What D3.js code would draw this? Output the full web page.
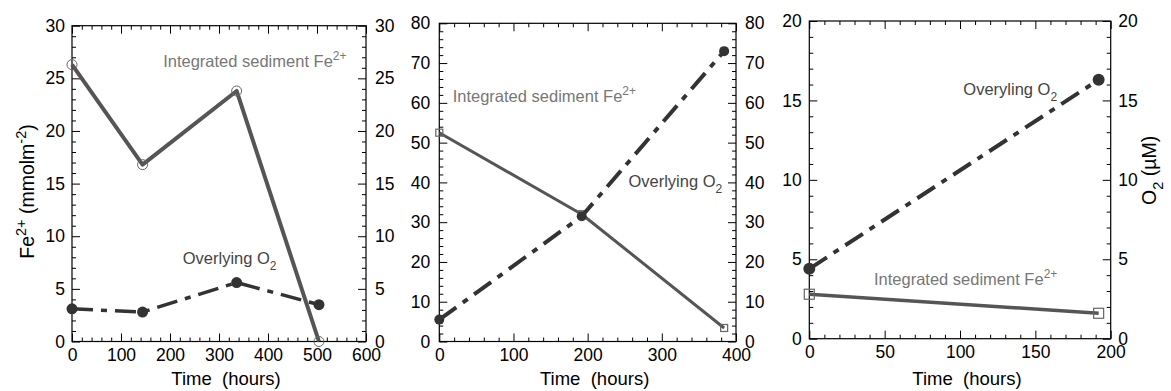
<!DOCTYPE html>
<html>
<head>
<meta charset="utf-8">
<script src="https://cdn.jsdelivr.net/npm/d3@7"></script>
<style>
  html, body { margin: 0; padding: 0; background: #fff; }
  svg { display: block; font-family: "Liberation Sans", Arial, Helvetica, sans-serif; }
</style>
</head>
<body>
<svg id="chart" width="1171" height="391"></svg>
<script>
// Incubation time points (hours) and measurements for the three experiments
const timeP1 = [0, 144, 336, 504];
const feP1   = [26.3, 16.8, 23.8, 0.0];   // integrated sediment Fe2+ (mmol m-2)
const o2P1   = [3.1, 2.8, 5.6, 3.5];      // overlying O2 (µM)

const timeP2 = [0, 192, 384];
const feP2   = [52.5, 32.0, 3.4];
const o2P2   = [5.5, 31.5, 73.0];

const timeP3 = [0, 192];
const feP3   = [2.8, 1.6];
const o2P3   = [4.4, 16.3];

// Tick labels
const xTicksP1 = [0, 100, 200, 300, 400, 500, 600];
const yTicksP1 = [0, 5, 10, 15, 20, 25, 30];
const xTicksP2 = [0, 100, 200, 300, 400];
const yTicksP2 = [0, 10, 20, 30, 40, 50, 60, 70, 80];
const xTicksP3 = [0, 50, 100, 150, 200];
const yTicksP3 = [0, 5, 10, 15, 20];

const feLabel = "Integrated sediment Fe";
const o2Label = "Overlying O";
const o2LabelP3 = "Overyling O";

// Layout and style of each panel
const panels = [
  { left: 72, right: 366, top: 25.7, bottom: 341.5,
    xTicks: xTicksP1, yTicks: yTicksP1, xMinor: 20, yMinor: 1,
    time: timeP1, fe: feP1, o2: o2P1,
    feShape: "circle", feSize: 5, feWidth: 4, o2R: 5.5, o2Width: 3.5,
    padL: 7, padR: 9,
    feText: { t: 186, v: 26.1, s: feLabel },
    o2Text: { t: 226, v: 7.33, s: o2Label },
    yTitle: true },
  { left: 439.3, right: 736, top: 23.3, bottom: 341.5,
    xTicks: xTicksP2, yTicks: yTicksP2, xMinor: 20, yMinor: 2,
    time: timeP2, fe: feP2, o2: o2P2,
    feShape: "square", feSize: 7, feWidth: 3, o2R: 5, o2Width: 4,
    padL: 9, padR: 9,
    feText: { t: 18, v: 60.3, s: feLabel },
    o2Text: { t: 255, v: 38.8, s: o2Label } },
  { left: 809.3, right: 1110.7, top: 21, bottom: 338.7,
    xTicks: xTicksP3, yTicks: yTicksP3, xMinor: 10, yMinor: 1,
    time: timeP3, fe: feP3, o2: o2P3,
    feShape: "square", feSize: 10, feWidth: 3.5, o2R: 6, o2Width: 4,
    padL: 7.5, padR: 7.5,
    feText: { t: 42.9, v: 3.38, s: feLabel },
    o2Text: { t: 102.2, v: 15.34, s: o2LabelP3 },
    rightTitle: true }
];

const FE_LINE = "#555555", O2_COLOR = "#333333";
const FE_TEXT = "#777777", O2_TEXT = "#444444";
const TICK_FONT = 17.5, TITLE_FONT = 18.5, NOTE_FONT = 16.5;

const svg = d3.select("#chart");

function minorValues(domain, step, majors) {
  return d3.range(domain[0], domain[1] + step / 2, step)
    .filter(v => !majors.some(m => Math.abs(m - v) < 1e-9));
}

function styleAxis(g) {
  g.select(".domain").remove();
  g.selectAll(".tick line").attr("stroke", "#000").attr("stroke-width", 1);
  g.selectAll("text").attr("font-size", TICK_FONT).attr("fill", "#000")
    .attr("font-family", "Liberation Sans, Arial, sans-serif");
}

panels.forEach(p => {
  const xDom = [p.xTicks[0], p.xTicks[p.xTicks.length - 1]];
  const yDom = [p.yTicks[0], p.yTicks[p.yTicks.length - 1]];
  const x = d3.scaleLinear().domain(xDom).range([p.left, p.right]);
  const y = d3.scaleLinear().domain(yDom).range([p.bottom, p.top]);
  const xMin = minorValues(xDom, p.xMinor, p.xTicks);
  const yMin = minorValues(yDom, p.yMinor, p.yTicks);

  const g = svg.append("g");

  // axes with inward ticks on all four sides
  g.append("g").attr("transform", `translate(0,${p.bottom})`)
    .call(d3.axisBottom(x).tickValues(p.xTicks).tickSize(-8).tickPadding(7).tickFormat(d3.format("d")))
    .call(styleAxis);
  g.append("g").attr("transform", `translate(0,${p.bottom})`)
    .call(d3.axisBottom(x).tickValues(xMin).tickSize(-4).tickFormat(""))
    .call(styleAxis);
  g.append("g").attr("transform", `translate(0,${p.top})`)
    .call(d3.axisTop(x).tickValues(p.xTicks).tickSize(-8).tickFormat(""))
    .call(styleAxis);
  g.append("g").attr("transform", `translate(0,${p.top})`)
    .call(d3.axisTop(x).tickValues(xMin).tickSize(-4).tickFormat(""))
    .call(styleAxis);
  g.append("g").attr("transform", `translate(${p.left},0)`)
    .call(d3.axisLeft(y).tickValues(p.yTicks).tickSize(-8).tickPadding(p.padL).tickFormat(d3.format("d")))
    .call(styleAxis);
  g.append("g").attr("transform", `translate(${p.left},0)`)
    .call(d3.axisLeft(y).tickValues(yMin).tickSize(-4).tickFormat(""))
    .call(styleAxis);
  g.append("g").attr("transform", `translate(${p.right},0)`)
    .call(d3.axisRight(y).tickValues(p.yTicks).tickSize(-8).tickPadding(p.padR).tickFormat(d3.format("d")))
    .call(styleAxis);
  g.append("g").attr("transform", `translate(${p.right},0)`)
    .call(d3.axisRight(y).tickValues(yMin).tickSize(-4).tickFormat(""))
    .call(styleAxis);

  // frame
  g.append("rect")
    .attr("x", p.left).attr("y", p.top)
    .attr("width", p.right - p.left).attr("height", p.bottom - p.top)
    .attr("fill", "none").attr("stroke", "#000").attr("stroke-width", 1.2);

  // Fe2+ series: solid line with open markers
  const feData = p.time.map((t, i) => [t, p.fe[i]]);
  const o2Data = p.time.map((t, i) => [t, p.o2[i]]);
  const line = d3.line().x(d => x(d[0])).y(d => y(d[1]));

  g.append("path").datum(feData).attr("d", line)
    .attr("fill", "none").attr("stroke", FE_LINE).attr("stroke-width", p.feWidth)
    .attr("stroke-linejoin", "round");
  if (p.feShape === "circle") {
    g.selectAll(null).data(feData).enter().append("circle")
      .attr("cx", d => x(d[0])).attr("cy", d => y(d[1])).attr("r", p.feSize)
      .attr("fill", "none").attr("stroke", "#666").attr("stroke-width", 1);
  } else {
    g.selectAll(null).data(feData).enter().append("rect")
      .attr("x", d => x(d[0]) - p.feSize / 2).attr("y", d => y(d[1]) - p.feSize / 2)
      .attr("width", p.feSize).attr("height", p.feSize)
      .attr("fill", "none").attr("stroke", "#666").attr("stroke-width", 1.2);
  }

  // O2 series: dash-dot line with filled markers
  g.append("path").datum(o2Data).attr("d", line)
    .attr("fill", "none").attr("stroke", O2_COLOR).attr("stroke-width", p.o2Width)
    .attr("stroke-dasharray", "21,8,6,8");
  g.selectAll(null).data(o2Data).enter().append("circle")
    .attr("cx", d => x(d[0])).attr("cy", d => y(d[1])).attr("r", p.o2R)
    .attr("fill", O2_COLOR);

  // series labels
  const fe = g.append("text").attr("x", x(p.feText.t)).attr("y", y(p.feText.v))
    .attr("font-size", NOTE_FONT).attr("fill", FE_TEXT);
  fe.append("tspan").text(p.feText.s);
  fe.append("tspan").attr("font-size", 12).attr("dy", -7).text("2+");

  const o2 = g.append("text").attr("x", x(p.o2Text.t)).attr("y", y(p.o2Text.v))
    .attr("font-size", NOTE_FONT).attr("fill", O2_TEXT);
  o2.append("tspan").text(p.o2Text.s);
  o2.append("tspan").attr("font-size", 12).attr("dy", 6).text("2");

  // x axis title
  svg.append("text")
    .attr("x", (p.left + p.right) / 2 + 7).attr("y", 385)
    .attr("text-anchor", "middle").attr("font-size", TITLE_FONT)
    .style("white-space", "pre")
    .text("Time  (hours)");

  if (p.yTitle) {
    const t = svg.append("text")
      .attr("transform", `translate(33.5,191.5) rotate(-90)`)
      .attr("text-anchor", "middle").attr("font-size", 19.5);
    t.append("tspan").text("Fe");
    t.append("tspan").attr("font-size", 14.5).attr("dy", -8).text("2+");
    t.append("tspan").attr("dy", 8).style("white-space", "pre").text(" (mmolm");
    t.append("tspan").attr("font-size", 14.5).attr("dy", -8).text("-2");
    t.append("tspan").attr("dy", 8).text(")");
  }
  if (p.rightTitle) {
    const t = svg.append("text")
      .attr("transform", `translate(1155.5,205) rotate(-90)`)
      .attr("text-anchor", "start").attr("font-size", 19.5);
    t.append("tspan").text("O");
    t.append("tspan").attr("font-size", 14.5).attr("dy", 7).text("2");
    t.append("tspan").attr("dy", -7).style("white-space", "pre").text(" (µM)");
  }
});
</script>
</body>
</html>
